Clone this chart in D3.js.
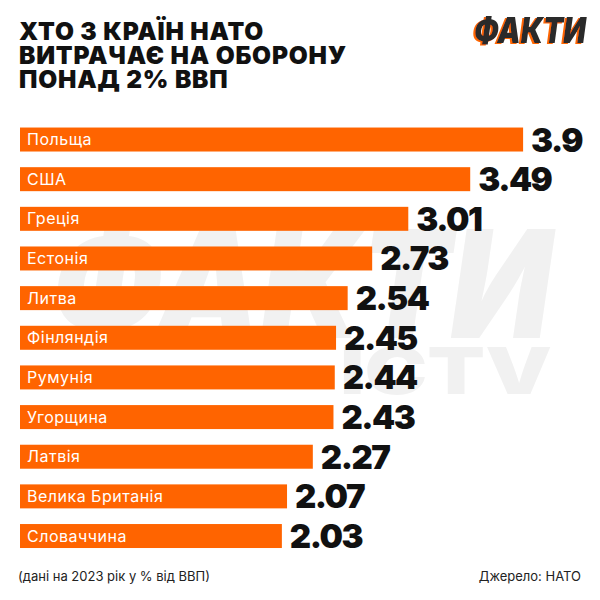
<!DOCTYPE html>
<html><head><meta charset="utf-8">
<script src="https://cdn.jsdelivr.net/npm/d3@7/dist/d3.min.js"></script>
<style>
html,body{margin:0;padding:0;background:#fff;}
svg{display:block;}
</style></head>
<body>
<script>
const countries = ["Польща","США","Греція","Естонія","Литва","Фінляндія","Румунія","Угорщина","Латвія","Велика Британія","Словаччина"];
const values = [3.9,3.49,3.01,2.73,2.54,2.45,2.44,2.43,2.27,2.07,2.03];
const valueLabels = ["3.9","3.49","3.01","2.73","2.54","2.45","2.44","2.43","2.27","2.07","2.03"];
const titleLines = ["ХТО З КРАЇН НАТО","ВИТРАЧАЄ НА ОБОРОНУ","ПОНАД 2% ВВП"];
const noteText = "(дані на 2023 рік у % від ВВП)";
const sourceText = "Джерело: НАТО";
const logoText = "ФАКТИ";

const W = 600, H = 600;
const FONT = "Inter, 'DejaVu Sans', sans-serif";
const svg = d3.select("body").append("svg").attr("width", W).attr("height", H);
svg.append("rect").attr("width", W).attr("height", H).attr("fill", "#fff");

const defs = svg.append("defs");
const f = defs.append("filter").attr("id", "logoShadow").attr("x", "-10%").attr("y", "-20%").attr("width", "120%").attr("height", "140%");
f.append("feOffset").attr("in", "SourceAlpha").attr("dx", -2).attr("dy", 1).attr("result", "off");
f.append("feFlood").attr("flood-color", "#ff6600").attr("result", "col");
f.append("feComposite").attr("in", "col").attr("in2", "off").attr("operator", "in").attr("result", "sh");
const fm = f.append("feMerge");
fm.append("feMergeNode").attr("in", "sh");
fm.append("feMergeNode").attr("in", "SourceGraphic");

// watermark (logo graphic)
const wm = svg.append("g").attr("fill", "#f1f1f1").attr("font-family", FONT).attr("font-weight", 900);
wm.append("text").attr("x", 52).attr("y", 338)
  .attr("font-size", 150).attr("font-style", "italic")
  .attr("textLength", 500).attr("lengthAdjust", "spacingAndGlyphs").text(logoText);
wm.append("text").attr("x", 340).attr("y", 394)
  .attr("font-size", 64).attr("textLength", 212).attr("lengthAdjust", "spacingAndGlyphs").text("ICTV");

// title
const title = svg.append("text").attr("font-family", FONT)
  .attr("font-weight", 900).attr("font-size", 24.5).attr("fill", "#111").attr("letter-spacing", 0.8);
titleLines.forEach((t, i) => {
  title.append("tspan").attr("x", 19).attr("y", 39.5 + i * 24.2).text(t);
});

// logo
svg.append("text").attr("x", 474).attr("y", 43)
  .attr("font-family", FONT).attr("font-weight", 900).attr("font-style", "italic").attr("font-size", 35)
  .attr("fill", "#2b2b2b").attr("filter", "url(#logoShadow)")
  .attr("textLength", 112).attr("lengthAdjust", "spacingAndGlyphs").text(logoText);

// scales
const x = d3.scaleLinear().domain([0, 4]).range([20, 536]);
const y = d3.scaleBand().domain(countries).range([119.7, 555.85]).paddingInner(0.395).paddingOuter(0.1975);

const rows = svg.append("g").selectAll("g").data(countries).join("g");
rows.append("rect")
  .attr("x", x(0))
  .attr("y", d => y(d))
  .attr("width", (d, i) => x(values[i]) - x(0))
  .attr("height", y.bandwidth())
  .attr("fill", "#ff6400");
rows.append("text")
  .attr("x", 27)
  .attr("y", d => y(d) + y.bandwidth() / 2 + 5.5)
  .attr("font-family", FONT)
  .attr("font-size", 16).attr("letter-spacing", 0.5).attr("fill", "#fff")
  .text(d => d);
rows.append("text")
  .attr("x", (d, i) => x(values[i]) + 8)
  .attr("y", d => y(d) + y.bandwidth() / 2 + 12)
  .attr("font-family", FONT)
  .attr("font-weight", 900).attr("font-size", 33).attr("letter-spacing", -1.5).attr("fill", "#111")
  .text((d, i) => valueLabels[i]);

// footer
svg.append("text").attr("x", 18).attr("y", 581)
  .attr("font-family", FONT).attr("font-size", 13).attr("fill", "#222")
  .text(noteText);
svg.append("text").attr("x", 581).attr("y", 581).attr("text-anchor", "end")
  .attr("font-family", FONT).attr("font-size", 13).attr("fill", "#222")
  .text(sourceText);
</script>
</body></html>
